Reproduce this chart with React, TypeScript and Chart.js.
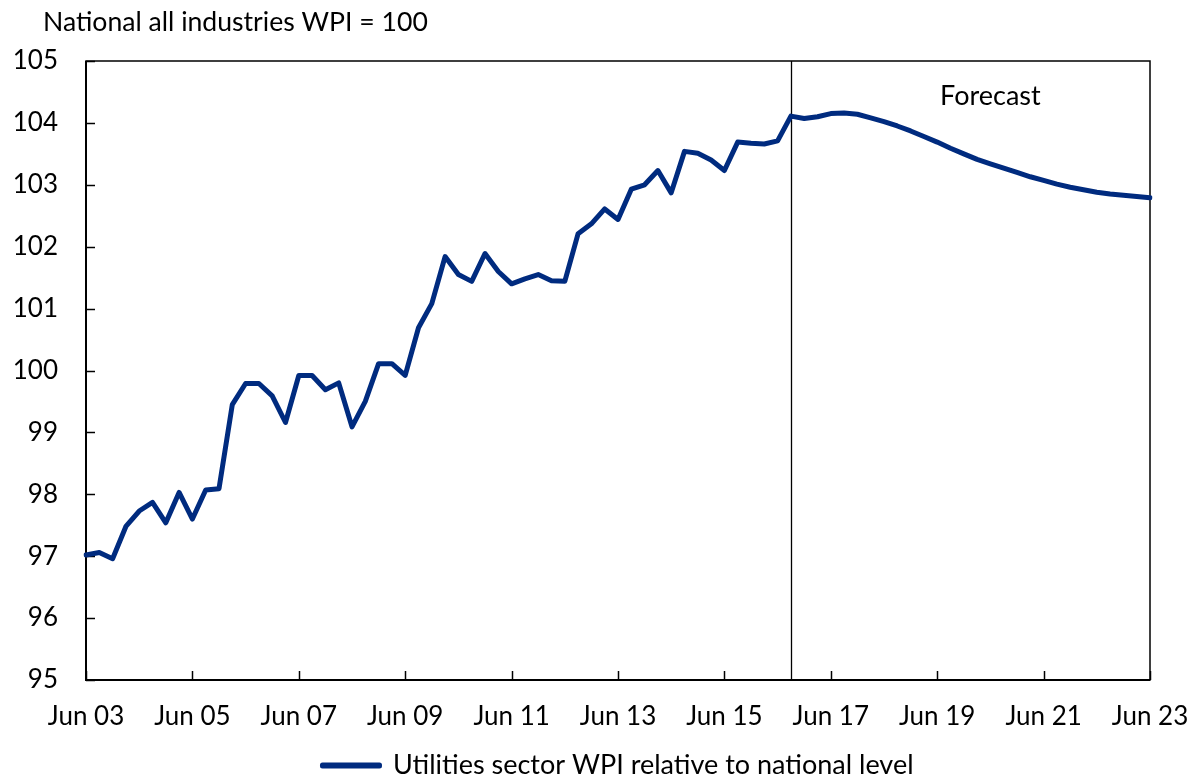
import React, { useEffect, useRef } from "react";
import { Chart, registerables } from "chart.js";

Chart.register(...registerables);

// ---- Data ----
const MONTHS = ["Jun", "Sep", "Dec", "Mar"];
const QUARTERS: string[] = [];
for (let i = 0; i <= 80; i++) {
  const yr = 3 + Math.floor((i + 1) / 4);
  QUARTERS.push(`${MONTHS[i % 4]} ${String(yr).padStart(2, "0")}`);
}

const TICK_LABELS = [
  "Jun 03", "Jun 05", "Jun 07", "Jun 09", "Jun 11", "Jun 13",
  "Jun 15", "Jun 17", "Jun 19", "Jun 21", "Jun 23",
];

// Jun 03 .. Sep 16 (actual)
const HISTORY = [
  97.02, 97.06, 96.96, 97.48, 97.73, 97.87, 97.54, 98.03, 97.6, 98.07,
  98.09, 99.45, 99.79, 99.79, 99.59, 99.16, 99.92, 99.92, 99.69, 99.8,
  99.09, 99.5, 100.11, 100.11, 99.92, 100.69, 101.08, 101.84, 101.55, 101.44,
  101.89, 101.6, 101.4, 101.48, 101.55, 101.45, 101.44, 102.21, 102.37, 102.61,
  102.44, 102.93, 103.0, 103.23, 102.87, 103.54, 103.51, 103.4, 103.23, 103.69,
  103.67, 103.66, 103.71, 104.11,
];

// Dec 16 .. Jun 23 (forecast)
const FORECAST = [
  104.07, 104.1, 104.15, 104.16, 104.14, 104.08, 104.02, 103.95, 103.87, 103.78,
  103.69, 103.59, 103.5, 103.41, 103.34, 103.27, 103.2, 103.13, 103.07, 103.01,
  102.96, 102.92, 102.88, 102.85, 102.83, 102.81, 102.79,
];

const SERIES = [...HISTORY, ...FORECAST];
const FORECAST_START = "Sep 16";
const SERIES_LABEL = "Utilities sector WPI relative to national level";
const Y_TITLE = "National all industries WPI = 100";
const FORECAST_TEXT = "Forecast";
const FORECAST_TEXT_AT = "Jun 20";

const FONT = "Lato";
const NAVY = "#002B7F";

const framePlugin = {
  id: "frame",
  beforeDatasetsDraw(chart: any) {
    const { ctx, chartArea, scales } = chart;
    const { left, right, top, bottom } = chartArea;
    const x = scales.x;
    const y = scales.y;
    ctx.save();
    ctx.strokeStyle = "#000";
    ctx.lineWidth = 1.5;
    ctx.strokeRect(left, top, right - left, bottom - top);
    ctx.lineWidth = 2;
    ctx.beginPath();
    ctx.moveTo(left, top);
    ctx.lineTo(left, bottom);
    ctx.lineTo(right, bottom);
    ctx.stroke();
    // inward ticks
    ctx.lineWidth = 1.5;
    y.ticks.forEach((t: any) => {
      const py = Math.round(y.getPixelForValue(t.value)) + 0.5;
      ctx.beginPath();
      ctx.moveTo(left, py);
      ctx.lineTo(left + 9, py);
      ctx.stroke();
    });
    QUARTERS.forEach((q, i) => {
      if (TICK_LABELS.includes(q)) {
        const px = Math.round(x.getPixelForValue(i)) + 0.5;
        ctx.beginPath();
        ctx.moveTo(px, bottom);
        ctx.lineTo(px, bottom - 9);
        ctx.stroke();
      }
    });
    // forecast divider
    const fx = Math.round(x.getPixelForValue(QUARTERS.indexOf(FORECAST_START))) + 0.5;
    ctx.lineWidth = 1.3;
    ctx.beginPath();
    ctx.moveTo(fx, top);
    ctx.lineTo(fx, bottom);
    ctx.stroke();
    ctx.restore();
  },
  afterDraw(chart: any) {
    const { ctx, chartArea, scales } = chart;
    const x = scales.x;
    ctx.save();
    ctx.fillStyle = "#000";
    ctx.font = `26.6px ${FONT}`;
    ctx.textBaseline = "middle";
    ctx.textAlign = "left";
    ctx.fillText(Y_TITLE, chartArea.left - 43, chartArea.top - 39);
    ctx.textAlign = "center";
    ctx.font = `27px ${FONT}`;
    ctx.fillText(
      FORECAST_TEXT,
      x.getPixelForValue(QUARTERS.indexOf(FORECAST_TEXT_AT)),
      chartArea.top + 35
    );
    ctx.restore();
  },
};

export default function App() {
  const ref = useRef<HTMLCanvasElement | null>(null);
  useEffect(() => {
    document.body.style.margin = "0";
    if (!ref.current) return;
    Chart.defaults.font.family = FONT;
    Chart.defaults.color = "#000";
    const chart = new Chart(ref.current, {
      type: "line",
      data: {
        labels: QUARTERS,
        datasets: [
          {
            label: SERIES_LABEL,
            data: SERIES,
            borderColor: NAVY,
            backgroundColor: NAVY,
            borderWidth: 5,
            pointRadius: 0,
            tension: 0,
            borderJoinStyle: "round",
            borderCapStyle: "round",
          },
        ],
      },
      options: {
        responsive: false,
        animation: false,
        layout: { padding: { top: 61, right: 45, left: 0, bottom: -11 } },
        plugins: {
          tooltip: { enabled: false },
          title: { display: false },
          legend: {
            position: "bottom",
            fullSize: false,
            labels: {
              boxWidth: 57,
              boxHeight: 1,
              padding: 0,
              font: { size: 27, family: FONT },
              color: "#000",
            },
          },
        },
        scales: {
          x: {
            type: "category",
            offset: false,
            grid: { display: false, drawTicks: false },
            border: { display: false },
            ticks: {
              autoSkip: false,
              maxRotation: 0,
              minRotation: 0,
              padding: 21,
              font: { size: 26, family: FONT },
              color: "#000",
              callback: (_v: any, i: number) =>
                TICK_LABELS.includes(QUARTERS[i]) ? QUARTERS[i] : null,
            },
            afterFit: (s: any) => {
              s.height = 72;
              s.paddingLeft = 0;
              s.paddingRight = 0;
            },
          },
          y: {
            min: 95,
            max: 105,
            grid: { display: false, drawTicks: false },
            border: { display: false },
            ticks: {
              stepSize: 1,
              padding: 28,
              font: { size: 26, family: FONT },
              color: "#000",
            },
            afterFit: (s: any) => {
              s.width = 86;
              s.paddingTop = 0;
              s.paddingBottom = 0;
            },
          },
        },
      },
      plugins: [framePlugin],
    });
    return () => chart.destroy();
  }, []);
  return <canvas ref={ref} width={1195} height={778} />;
}
